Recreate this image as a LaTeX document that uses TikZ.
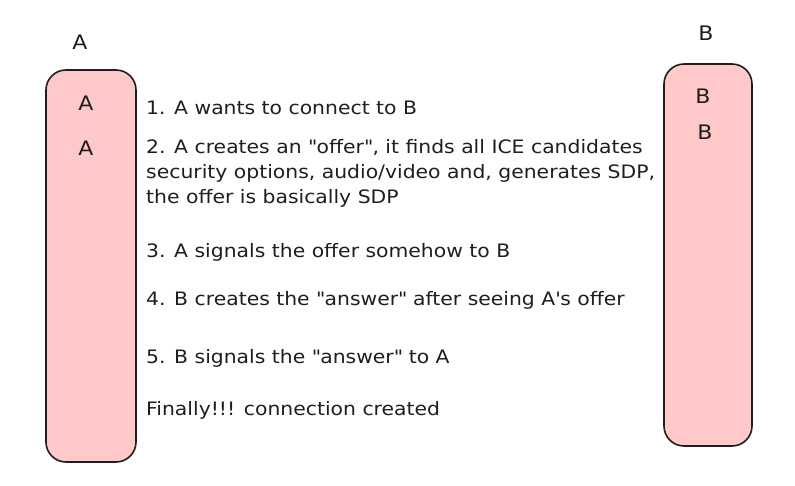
\documentclass[tikz,border=0pt]{standalone}
\usepackage{fontspec}
\setmainfont[FakeStretch=1.10]{DejaVu Sans}
\usepackage{tikz}
\usetikzlibrary{positioning}
\definecolor{peer_fill}{HTML}{FFC9C9}
\definecolor{ink}{HTML}{1E1E1E}

\begin{document}
\begin{tikzpicture}[
                x=1pt, y=-1pt,
                every node/.style={inner sep=0pt, text=ink},
                peer/.style={draw=ink, fill=peer_fill, line width=1.6pt, rounded corners=20pt},
                peer_label/.style={font=\fontsize{20}{24}\selectfont},
                step_text/.style={anchor=west, align=left, font=\fontsize{18.5}{25}\selectfont}
            ]
                \useasboundingbox (0,0) rectangle (795,485);

                % Peer boxes
                \draw[peer] (46,70) rectangle (136,462);
                \draw[peer] (664,64) rectangle (752,446);

                % Peer labels
                \node[peer_label] (a_top) at (80,42) {A};
                \node[peer_label] (b_top) at (706,33) {B};
                \node[peer_label] (a_one) at (86,103) {A};
                \node[peer_label] (a_two) at (86,148) {A};
                \node[peer_label] (b_one) at (703,96) {B};
                \node[peer_label] (b_two) at (705,132) {B};

                % Steps
                \node[step_text] (s1) at (146,108) {1. A wants to connect to B};
                \node[step_text] (s2) at (146,173) {2. A creates an \textquotedbl offer\textquotedbl, it finds all ICE candidates\\security options, audio/video and, generates SDP,\\the offer is basically SDP};
                \node[step_text] (s3) at (146,252) {3. A signals the offer somehow to B};
                \node[step_text] (s4) at (146,300) {4. B creates the \textquotedbl answer\textquotedbl{} after seeing A\textquotesingle s offer};
                \node[step_text] (s5) at (146,358) {5. B signals the \textquotedbl answer\textquotedbl{} to A};
                \node[step_text] (fin) at (146,410) {Finally!!! connection created};
            \end{tikzpicture}
\end{document}
